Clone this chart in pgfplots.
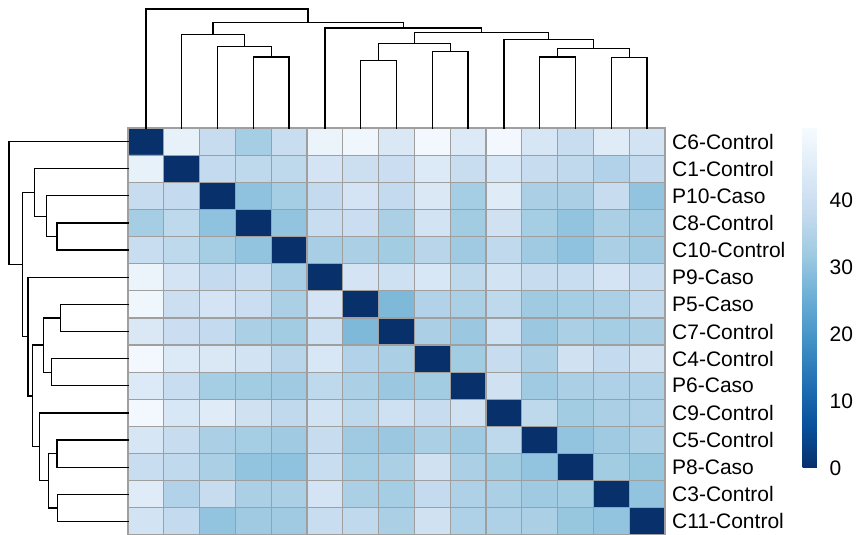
\documentclass[border=0pt]{standalone}
\usepackage{fontspec}
\setmainfont{Liberation Sans}
\usepackage{pgfplots}
\pgfplotsset{compat=1.18}
\newcommand\lblfont{\fontsize{21}{24}\selectfont}
\pgfplotsset{dend/.style={black, line width=1.3pt, line join=miter, line cap=rect}}
\begin{document}
\begin{tikzpicture}[x=1pt,y=1pt]
\useasboundingbox (0,0) rectangle (859,535);
\begin{axis}[
  at={(128pt,0pt)}, anchor=south west, scale only axis,
  width=537pt, height=407pt,
  xmin=0.5, xmax=15.5, ymin=0.5, ymax=15.5, y dir=reverse,
  enlargelimits=false,
  colormap={blues}{rgb255=(8,48,107) rgb255=(8,81,156) rgb255=(33,113,181) rgb255=(66,146,198) rgb255=(107,174,214) rgb255=(158,202,225) rgb255=(198,219,239) rgb255=(222,235,247) rgb255=(247,251,255)},
  point meta min=0, point meta max=51,
  xtick={1,...,15}, xticklabels={}, ytick={1,...,15},
  yticklabels={C6-Control,C1-Control,P10-Caso,C8-Control,C10-Control,P9-Caso,P5-Caso,C7-Control,C4-Control,P6-Caso,C9-Control,C5-Control,P8-Caso,C3-Control,C11-Control},
  yticklabel pos=right,
  yticklabel style={font=\lblfont, anchor=west, inner sep=0pt, xshift=7pt},
  major tick length=0pt, minor tick length=0pt,
  minor xtick={0.5,1.5,...,15.5}, minor ytick={0.5,1.5,...,15.5},
  xminorgrids=true, yminorgrids=true,
  minor grid style={draw=gray!75, line width=1.2pt},
  axis line style={draw=gray!75, line width=1.2pt},
  axis on top,
  colorbar,
  colorbar style={
    at={(parent axis.south east)}, anchor=south west, xshift=129pt, yshift=67pt,
    scale only axis, width=21pt, height=341pt,
    y dir=normal, grid=none,
    ytick={0,10,20,30,40}, minor ytick={}, minor xtick={}, xtick=\empty,
    major tick length=0pt, minor tick length=0pt,
    axis line style={draw=none},
    yticklabel pos=right,
    yticklabel style={font=\lblfont, anchor=west, inner sep=0pt, xshift=6pt},
    /pgf/number format/assume math mode=true,
  },
]
\addplot[matrix plot*, mesh/cols=15, point meta=explicit] coordinates {
(1,1)[0] (2,1)[47] (3,1)[38.5] (4,1)[33] (5,1)[39] (6,1)[48] (7,1)[49] (8,1)[43.5] (9,1)[50] (10,1)[44] (11,1)[50] (12,1)[42.5] (13,1)[39] (14,1)[45] (15,1)[41.5]

(1,2)[47] (2,2)[0] (3,2)[38] (4,2)[37] (5,2)[37] (6,2)[42] (7,2)[40] (8,2)[39.5] (9,2)[44] (10,2)[39] (11,2)[43] (12,2)[38.5] (13,2)[37.5] (14,2)[35] (15,2)[38]

(1,3)[38.5] (2,3)[38] (3,3)[0] (4,3)[30] (5,3)[33] (6,3)[38] (7,3)[42] (8,3)[38] (9,3)[43.5] (10,3)[33] (11,3)[45] (12,3)[34] (13,3)[34] (14,3)[38.5] (15,3)[30.5]

(1,4)[33] (2,4)[37] (3,4)[30] (4,4)[0] (5,4)[30.5] (6,4)[39] (7,4)[39.5] (8,4)[34] (9,4)[41.5] (10,4)[32.5] (11,4)[41] (12,4)[33] (13,4)[30.5] (14,4)[34] (15,4)[32]

(1,5)[39] (2,5)[37] (3,5)[33] (4,5)[30.5] (5,5)[0] (6,5)[33.5] (7,5)[34] (8,5)[32.5] (9,5)[36] (10,5)[32] (11,5)[37.5] (12,5)[32] (13,5)[30] (14,5)[34] (15,5)[32]

(1,6)[48] (2,6)[42] (3,6)[38] (4,6)[39] (5,6)[33.5] (6,6)[0] (7,6)[42] (8,6)[40.5] (9,6)[43] (10,6)[37] (11,6)[41.5] (12,6)[38.5] (13,6)[39] (14,6)[42] (15,6)[39]

(1,7)[49] (2,7)[40] (3,7)[42] (4,7)[39.5] (5,7)[34] (6,7)[42] (7,7)[0] (8,7)[28] (9,7)[35] (10,7)[34] (11,7)[37] (12,7)[32] (13,7)[33] (14,7)[34] (15,7)[37.5]

(1,8)[43.5] (2,8)[39.5] (3,8)[38] (4,8)[34] (5,8)[32.5] (6,8)[40.5] (7,8)[28] (8,8)[0] (9,8)[34] (10,8)[31.5] (11,8)[40.5] (12,8)[31.5] (13,8)[34] (14,8)[33] (15,8)[34]

(1,9)[50] (2,9)[44] (3,9)[43.5] (4,9)[41.5] (5,9)[36] (6,9)[43] (7,9)[35] (8,9)[34] (9,9)[0] (10,9)[32.5] (11,9)[38.5] (12,9)[34] (13,9)[41] (14,9)[38] (15,9)[41]

(1,10)[44] (2,10)[39] (3,10)[33] (4,10)[32.5] (5,10)[32] (6,10)[37] (7,10)[34] (8,10)[31.5] (9,10)[32.5] (10,10)[0] (11,10)[41] (12,10)[32] (13,10)[34] (14,10)[34.5] (15,10)[34.5]

(1,11)[50] (2,11)[43] (3,11)[45] (4,11)[41] (5,11)[37.5] (6,11)[41.5] (7,11)[37] (8,11)[40.5] (9,11)[38.5] (10,11)[41] (11,11)[0] (12,11)[37] (13,11)[32.5] (14,11)[34] (15,11)[34.5]

(1,12)[42.5] (2,12)[38.5] (3,12)[34] (4,12)[33] (5,12)[32] (6,12)[38.5] (7,12)[32] (8,12)[31.5] (9,12)[34] (10,12)[32] (11,12)[37] (12,12)[0] (13,12)[30.5] (14,12)[32] (15,12)[34]

(1,13)[39] (2,13)[37.5] (3,13)[34] (4,13)[30.5] (5,13)[30] (6,13)[39] (7,13)[33] (8,13)[34] (9,13)[41] (10,13)[34] (11,13)[32.5] (12,13)[30.5] (13,13)[0] (14,13)[32.5] (15,13)[31]

(1,14)[45] (2,14)[35] (3,14)[38.5] (4,14)[34] (5,14)[34] (6,14)[42] (7,14)[34] (8,14)[33] (9,14)[38] (10,14)[34.5] (11,14)[34] (12,14)[32] (13,14)[32.5] (14,14)[0] (15,14)[30.5]

(1,15)[41.5] (2,15)[38] (3,15)[30.5] (4,15)[32] (5,15)[32] (6,15)[39] (7,15)[37.5] (8,15)[34] (9,15)[41] (10,15)[34.5] (11,15)[34.5] (12,15)[34] (13,15)[31] (14,15)[30.5] (15,15)[0]
};
\end{axis}
% top dendrogram
\begin{axis}[at={(128pt,407pt)}, anchor=south west, scale only axis,
  width=537pt, height=120pt, xmin=0.5, xmax=15.5, ymin=0, ymax=120,
  hide axis, clip=false]
\addplot[dend] coordinates {(4,0) (4,71) (5,71) (5,0)};
\addplot[dend] coordinates {(3,0) (3,81.3) (4.5,81.3) (4.5,71)};
\addplot[dend] coordinates {(2,0) (2,93.7) (3.75,93.7) (3.75,81.3)};
\addplot[dend] coordinates {(7,0) (7,67.7) (8,67.7) (8,0)};
\addplot[dend] coordinates {(9,0) (9,76.3) (10,76.3) (10,0)};
\addplot[dend] coordinates {(7.5,67.7) (7.5,84.8) (9.5,84.8) (9.5,76.3)};
\addplot[dend] coordinates {(12,0) (12,71) (13,71) (13,0)};
\addplot[dend] coordinates {(14,0) (14,70.7) (15,70.7) (15,0)};
\addplot[dend] coordinates {(12.5,71) (12.5,79.3) (14.5,79.3) (14.5,70.7)};
\addplot[dend] coordinates {(11,0) (11,88.2) (13.5,88.2) (13.5,79.3)};
\addplot[dend] coordinates {(8.5,84.8) (8.5,95.2) (12.25,95.2) (12.25,88.2)};
\addplot[dend] coordinates {(6,0) (6,100) (10.375,100) (10.375,95.2)};
\addplot[dend] coordinates {(2.875,93.7) (2.875,105.5) (8.1875,105.5) (8.1875,100)};
\addplot[dend] coordinates {(1,0) (1,119) (5.53125,119) (5.53125,105.5)};
\end{axis}
% left dendrogram
\begin{axis}[at={(8pt,0pt)}, anchor=south west, scale only axis,
  width=120pt, height=407pt, xmin=0, xmax=120, x dir=reverse,
  ymin=0.5, ymax=15.5, y dir=reverse, hide axis, clip=false]
\addplot[dend] coordinates {(0,4) (71,4) (71,5) (0,5)};
\addplot[dend] coordinates {(0,3) (81.3,3) (81.3,4.5) (71,4.5)};
\addplot[dend] coordinates {(0,2) (93.7,2) (93.7,3.75) (81.3,3.75)};
\addplot[dend] coordinates {(0,7) (67.7,7) (67.7,8) (0,8)};
\addplot[dend] coordinates {(0,9) (76.3,9) (76.3,10) (0,10)};
\addplot[dend] coordinates {(67.7,7.5) (84.8,7.5) (84.8,9.5) (76.3,9.5)};
\addplot[dend] coordinates {(0,12) (71,12) (71,13) (0,13)};
\addplot[dend] coordinates {(0,14) (70.7,14) (70.7,15) (0,15)};
\addplot[dend] coordinates {(71,12.5) (79.3,12.5) (79.3,14.5) (70.7,14.5)};
\addplot[dend] coordinates {(0,11) (88.2,11) (88.2,13.5) (79.3,13.5)};
\addplot[dend] coordinates {(84.8,8.5) (95.2,8.5) (95.2,12.25) (88.2,12.25)};
\addplot[dend] coordinates {(0,6) (100,6) (100,10.375) (95.2,10.375)};
\addplot[dend] coordinates {(93.7,2.875) (105.5,2.875) (105.5,8.1875) (100,8.1875)};
\addplot[dend] coordinates {(0,1) (119,1) (119,5.53125) (105.5,5.53125)};
\end{axis}
\end{tikzpicture}
\end{document}
